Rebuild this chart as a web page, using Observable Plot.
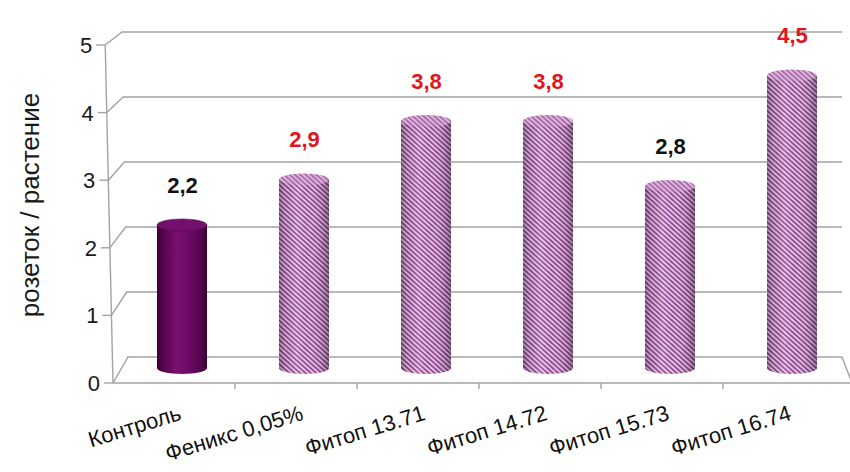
<!DOCTYPE html>
<html><head><meta charset="utf-8">
<script src="https://cdn.jsdelivr.net/npm/d3@7"></script>
<script src="https://cdn.jsdelivr.net/npm/@observablehq/plot@0.6"></script>
<style>
body{margin:0;background:#fff}
#chart svg{font-family:"Liberation Sans",Arial,sans-serif;background:#fff}
</style>
</head><body><div id="chart"></div>
<script>
// ---- data ----
const categories = ["Контроль", "Феникс 0,05%", "Фитоп 13.71", "Фитоп 14.72", "Фитоп 15.73", "Фитоп 16.74"];
const values = [2.2, 2.9, 3.8, 3.8, 2.8, 4.5];
const valueLabels = ["2,2", "2,9", "3,8", "3,8", "2,8", "4,5"];
const isControl = [true, false, false, false, false, false];
const isRedLabel = [false, true, true, true, false, true];
const yTicks = [0, 1, 2, 3, 4, 5];
const yTitle = "розеток / растение";

const data = categories.map((c, i) => ({
  category: c, value: values[i], label: valueLabels[i],
  control: isControl[i], red: isRedLabel[i]
}));

// ---- 3D look (style constants) ----
const FRONT_DX = -8, FRONT_DY = 15, FRONT_STRETCH = 1.04;
const BACK_DX = 7, BACK_DY = -11, PERSP_X = 6;
const GRID = "#a3a3a3";

function getScales(args) {
  return args.find(a => a && typeof a.x === "function" && typeof a.y === "function");
}
function bandInfo(sx) {
  const bw = typeof sx.bandwidth === "function" ? sx.bandwidth() : sx.bandwidth;
  const st = typeof sx.step === "function" ? sx.step() : sx.step;
  return {bw, st};
}

function frame(...args) {
  const s = getScales(args);
  const x = s.x, y = s.y;
  const [L, Rr] = x.range();
  const R = Rr - 12;
  const vMax = d3.max(yTicks);
  const y0 = y(0), yTop = y(vMax);
  const t = v => (y0 - y(v)) / (y0 - yTop);
  const fy = v => y0 + FRONT_DY - (y0 - y(v)) * FRONT_STRETCH;
  const fx = v => L + FRONT_DX - PERSP_X * 1.3 * t(v);
  const by = v => y(v) + BACK_DY;
  const bx = v => L + BACK_DX - PERSP_X * t(v);
  const g = d3.create("svg:g");
  const lines = g.append("g").attr("fill", "none").attr("stroke", GRID).attr("stroke-width", 1.4);
  for (const v of yTicks) {
    lines.append("path").attr("d", `M${fx(v)},${fy(v)}L${bx(v)},${by(v)}L${R},${by(v)}`);
    lines.append("path").attr("d", `M${fx(v) - 9},${fy(v)}L${fx(v)},${fy(v)}`);
  }
  lines.append("path").attr("d", `M${fx(0)},${fy(0)}L${fx(vMax)},${fy(vMax)}`);
  lines.append("path").attr("d", `M${fx(0)},${fy(0)}L${R + 10},${fy(0)}`);
  lines.append("path").attr("d", `M${R},${by(0)}L${R + 10},${fy(0)}`);
  const {bw, st} = bandInfo(x);
  categories.forEach((c, i) => {
    if (i === 0) return;
    const tx = x(c) - (st - bw) / 2 + FRONT_DX;
    lines.append("path").attr("d", `M${tx},${fy(0)}L${tx},${fy(0) + 6}`);
  });
  // y tick labels
  const labs = g.append("g").attr("font-size", 22).attr("fill", "#1a1a1a").attr("text-anchor", "end");
  for (const v of yTicks) {
    labs.append("text").attr("x", fx(v) - 13).attr("y", fy(v)).attr("dy", "0.36em").text(String(v));
  }
  // y title
  g.append("text")
    .attr("transform", `translate(${L - 91},${(fy(0) + fy(vMax)) / 2 - 9}) rotate(-90)`)
    .attr("text-anchor", "middle").attr("dy", "0.35em")
    .attr("font-size", 26).attr("fill", "#1a1a1a").text(yTitle);
  return g.node();
}

function cylinders(...args) {
  const s = getScales(args);
  const x = s.x, y = s.y;
  const {bw} = bandInfo(x);
  const g = d3.create("svg:g");
  const defs = g.append("defs");
  const pat = defs.append("pattern").attr("id", "stripes").attr("patternUnits", "userSpaceOnUse")
    .attr("width", 3.6).attr("height", 3.6).attr("patternTransform", "rotate(-48)");
  pat.append("rect").attr("width", 3.6).attr("height", 3.6).attr("fill", "#904c90");
  pat.append("rect").attr("width", 1.8).attr("height", 3.6).attr("fill", "#e8c0e8");
  const pat2 = defs.append("pattern").attr("id", "stripesTop").attr("patternUnits", "userSpaceOnUse")
    .attr("width", 3.6).attr("height", 3.6).attr("patternTransform", "rotate(-48)");
  pat2.append("rect").attr("width", 3.6).attr("height", 3.6).attr("fill", "#9d5a9d");
  pat2.append("rect").attr("width", 1.8).attr("height", 3.6).attr("fill", "#dcacdc");
  const shade = defs.append("linearGradient").attr("id", "shade");
  [[0, "#000", 0.3], [0.12, "#000", 0.1], [0.35, "#fff", 0.12], [0.55, "#fff", 0.0], [0.85, "#000", 0.12], [1, "#000", 0.35]]
    .forEach(([o, c, a]) => shade.append("stop").attr("offset", o).attr("stop-color", c).attr("stop-opacity", a));
  const ctrl = defs.append("linearGradient").attr("id", "ctrl");
  [[0, "#3c0038"], [0.15, "#5a0653"], [0.4, "#781070"], [0.6, "#6e0c67"], [0.88, "#53054d"], [1, "#3a0035"]]
    .forEach(([o, c]) => ctrl.append("stop").attr("offset", o).attr("stop-color", c));
  const ry = 6, rx = bw / 2;
  for (const d of data) {
    const cx = x(d.category) + bw / 2;
    const top = y(d.value), bot = y(0);
    const body = `M${cx - rx},${top}L${cx - rx},${bot}A${rx},${ry} 0 0 0 ${cx + rx},${bot}L${cx + rx},${top}Z`;
    if (d.control) {
      g.append("path").attr("d", body).attr("fill", "url(#ctrl)");
      g.append("ellipse").attr("cx", cx).attr("cy", top).attr("rx", rx).attr("ry", ry)
        .attr("fill", "#72106b").attr("stroke", "#5e0858").attr("stroke-width", 0.6);
    } else {
      g.append("path").attr("d", body).attr("fill", "url(#stripes)");
      g.append("path").attr("d", body).attr("fill", "url(#shade)");
      g.append("ellipse").attr("cx", cx).attr("cy", top).attr("rx", rx).attr("ry", ry)
        .attr("fill", "url(#stripesTop)");
      g.append("ellipse").attr("cx", cx).attr("cy", top).attr("rx", rx).attr("ry", ry)
        .attr("fill", "#fff").attr("fill-opacity", 0.12);
    }
  }
  return g.node();
}

const plot = Plot.plot({
  width: 850,
  height: 472,
  style: {fontFamily: "Liberation Sans, Arial, sans-serif", background: "#fff"},
  x: {type: "band", domain: categories, range: [121, 854], paddingInner: 0.59, paddingOuter: 0.295, axis: null},
  y: {domain: [0, 5], range: [368, 43], axis: null},
  marks: [
    frame,
    cylinders,
    Plot.text(data, {
      x: "category", y: "value", text: "label", dy: -40,
      fill: d => d.red ? "#e3141c" : "#111111",
      fontWeight: "bold", fontSize: 22
    }),
    Plot.text(data, {
      x: "category", y: () => 0, text: "category",
      dy: 51, dx: 0, rotate: -17, textAnchor: "end", lineAnchor: "bottom",
      fontSize: 22, fill: "#111"
    })
  ]
});
document.getElementById("chart").appendChild(plot);
</script>
</body></html>
